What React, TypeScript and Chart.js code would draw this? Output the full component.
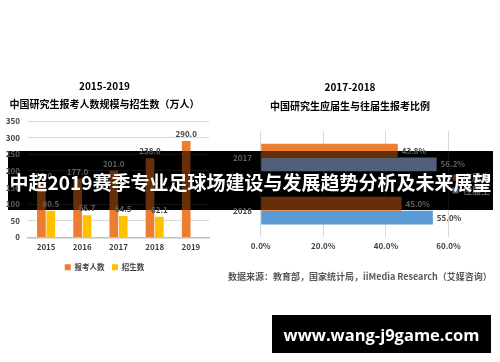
import React, { useEffect, useRef } from "react";
import { Chart, registerables } from "chart.js";

Chart.register(...registerables);

const FONT = '"Noto Sans CJK SC", "Noto Sans", sans-serif';

// Left chart data
const years = ["2015", "2016", "2017", "2018", "2019"];
const applicants = [165.0, 177.0, 201.0, 238.0, 290.0];
const enrolled = [80.5, 66.7, 64.5, 62.1];
const leftTitle = "2015-2019";
const leftSubtitle = "中国研究生报考人数规模与招生数（万人）";
const leftSeriesNames = ["报考人数", "招生数"];

// Right chart data
const ratioYears = ["2017", "2018"];
const freshGrads = [43.8, 45.0];
const pastGrads = [56.2, 55.0];
const rightTitle = "2017-2018";
const rightSubtitle = "中国研究生应届生与往届生报考比例";
const rightSeriesNames = ["应届生", "往届生"];

const sourceText = "数据来源：教育部，国家统计局，iiMedia Research（艾媒咨询）";
const bannerText = "中超2019赛季专业足球场建设与发展趋势分析及未来展望";
const watermarkText = "www.wang-j9game.com";

const TEXT = "#404040";
const GRID = "#d9d9d9";

const makeLabelPlugin = (horizontal: boolean) => ({
  id: "valueLabels",
  afterDatasetsDraw(chart: any) {
    const ctx = chart.ctx;
    ctx.save();
    ctx.font = `bold 8px ${FONT}`;
    ctx.fillStyle = TEXT;
    chart.data.datasets.forEach((ds: any, i: number) => {
      const meta = chart.getDatasetMeta(i);
      meta.data.forEach((el: any, j: number) => {
        const v = ds.data[j];
        if (v == null) return;
        const { x, y } = el.getProps(["x", "y"], true);
        if (horizontal) {
          ctx.textAlign = "left";
          ctx.textBaseline = "middle";
          ctx.fillText(v.toFixed(1) + "%", x + 4, y);
        } else {
          ctx.textAlign = "center";
          ctx.textBaseline = "bottom";
          ctx.fillText(v.toFixed(1), x, y - 3);
        }
      });
    });
    ctx.restore();
  },
});

function LeftChart() {
  const ref = useRef<HTMLCanvasElement>(null);
  useEffect(() => {
    const chart = new Chart(ref.current!, {
      type: "bar",
      data: {
        labels: years,
        datasets: [
          {
            label: leftSeriesNames[0],
            data: applicants,
            backgroundColor: "#ED7D31",
            categoryPercentage: 0.52,
            barPercentage: 0.92,
          },
          {
            label: leftSeriesNames[1],
            data: enrolled,
            backgroundColor: "#FFC000",
            categoryPercentage: 0.52,
            barPercentage: 0.92,
          },
        ],
      },
      options: {
        animation: false,
        responsive: false,
        maintainAspectRatio: false,
        layout: { padding: { left: 0, right: 16, top: 0, bottom: 0 } },
        plugins: {
          title: {
            display: true,
            text: leftTitle,
            color: "#000",
            font: { family: FONT, size: 10, weight: "bold" },
            padding: { top: 80, bottom: 0 },
          },
          subtitle: {
            display: true,
            text: leftSubtitle,
            color: "#000",
            font: { family: FONT, size: 10, weight: "bold" },
            padding: { top: 6, bottom: 11 },
          },
          legend: {
            position: "bottom",
            labels: {
              boxWidth: 6,
              boxHeight: 6,
              padding: 7.5,
              color: TEXT,
              font: { family: FONT, size: 7.5, weight: "bold" },
            },
          },
          tooltip: { enabled: false },
        },
        scales: {
          x: {
            grid: { display: false, drawTicks: false },
            border: { display: true, color: "#bfbfbf", width: 1.5 },
            ticks: {
              padding: 4.5,
              color: TEXT,
              font: { family: FONT, size: 8, weight: "bold" },
            },
          },
          y: {
            min: 0,
            max: 350,
            afterFit: (s: any) => {
              s.width = 28;
            },
            grid: { color: GRID, drawTicks: false },
            border: { display: false },
            ticks: {
              stepSize: 50,
              padding: 8,
              color: TEXT,
              font: { family: FONT, size: 8, weight: "bold" },
            },
          },
        },
      },
      plugins: [makeLabelPlugin(false)],
    } as any);
    return () => chart.destroy();
  }, []);
  return (
    <canvas
      ref={ref}
      width={225}
      height={281}
      style={{ position: "absolute", left: 0, top: 0, width: 225, height: 281 }}
    />
  );
}

function RightChart() {
  const ref = useRef<HTMLCanvasElement>(null);
  useEffect(() => {
    const chart = new Chart(ref.current!, {
      type: "bar",
      data: {
        labels: ratioYears,
        datasets: [
          {
            label: rightSeriesNames[0],
            data: freshGrads,
            backgroundColor: "#ED7D31",
            categoryPercentage: 0.52,
            barPercentage: 1,
          },
          {
            label: rightSeriesNames[1],
            data: pastGrads,
            backgroundColor: ["#264478", "#5B9BD5"],
            categoryPercentage: 0.52,
            barPercentage: 1,
          },
        ],
      },
      options: {
        indexAxis: "y",
        animation: false,
        responsive: false,
        maintainAspectRatio: false,
        layout: { padding: 0 },
        plugins: {
          title: {
            display: true,
            text: rightTitle,
            color: "#000",
            font: { family: FONT, size: 10, weight: "bold" },
            padding: { top: 81, bottom: 0 },
          },
          subtitle: {
            display: true,
            text: rightSubtitle,
            color: "#000",
            font: { family: FONT, size: 10, weight: "bold" },
            padding: { top: 7, bottom: 19 },
          },
          legend: {
            position: "right",
            fullSize: false,
            labels: {
              boxWidth: 6,
              boxHeight: 6,
              padding: 4,
              color: TEXT,
              font: { family: FONT, size: 9, weight: "bold" },
            },
          },
          tooltip: { enabled: false },
        },
        scales: {
          x: {
            min: 0,
            max: 60,
            grid: { color: GRID, drawTicks: false },
            border: { display: false },
            ticks: {
              stepSize: 20,
              padding: 3.6,
              color: TEXT,
              font: { family: FONT, size: 8, weight: "bold" },
              callback: (v: any) => Number(v).toFixed(1) + "%",
            },
          },
          y: {
            afterFit: (s: any) => {
              s.width = 60.7;
            },
            grid: { display: false, drawTicks: false },
            border: { display: false },
            ticks: {
              padding: 8.7,
              color: TEXT,
              font: { family: FONT, size: 8, weight: "bold" },
            },
          },
        },
      },
      plugins: [makeLabelPlugin(true)],
    } as any);
    return () => chart.destroy();
  }, []);
  return (
    <canvas
      ref={ref}
      width={300}
      height={254}
      style={{ position: "absolute", left: 200, top: 0, width: 300, height: 254 }}
    />
  );
}

export default function App() {
  return (
    <div
      style={{
        position: "fixed",
        left: 0,
        top: 0,
        width: 500,
        height: 362,
        background: "#ffffff",
        overflow: "hidden",
      }}
    >
      <LeftChart />
      <RightChart />
      <div
        style={{
          position: "absolute",
          left: 228,
          top: 271,
          fontFamily: FONT,
          fontSize: 9,
          fontWeight: "bold",
          color: "#595959",
          whiteSpace: "nowrap",
          lineHeight: "12px",
        }}
      >
        {sourceText}
      </div>
      <div
        style={{
          position: "absolute",
          left: 8,
          top: 151,
          width: 485,
          height: 59,
          display: "flex",
          alignItems: "center",
          justifyContent: "center",
          backdropFilter: "invert(1) hue-rotate(180deg) brightness(0.5)",
          WebkitBackdropFilter: "invert(1) hue-rotate(180deg) brightness(0.5)",
          color: "#ffffff",
          fontFamily: FONT,
          fontSize: 19,
          fontWeight: "bold",
          whiteSpace: "nowrap",
          paddingTop: 2,
          boxSizing: "border-box",
        }}
      >
        {bannerText}
      </div>
      <div
        style={{
          position: "absolute",
          left: 272,
          top: 315,
          width: 219,
          height: 38,
          background: "#000000",
          display: "flex",
          alignItems: "center",
          justifyContent: "center",
          color: "#ffffff",
          fontFamily: '"Open Sans", "DejaVu Sans", sans-serif',
          fontSize: 16.5,
          fontWeight: "bold",
          whiteSpace: "nowrap",
        }}
      >
        {watermarkText}
      </div>
    </div>
  );
}
